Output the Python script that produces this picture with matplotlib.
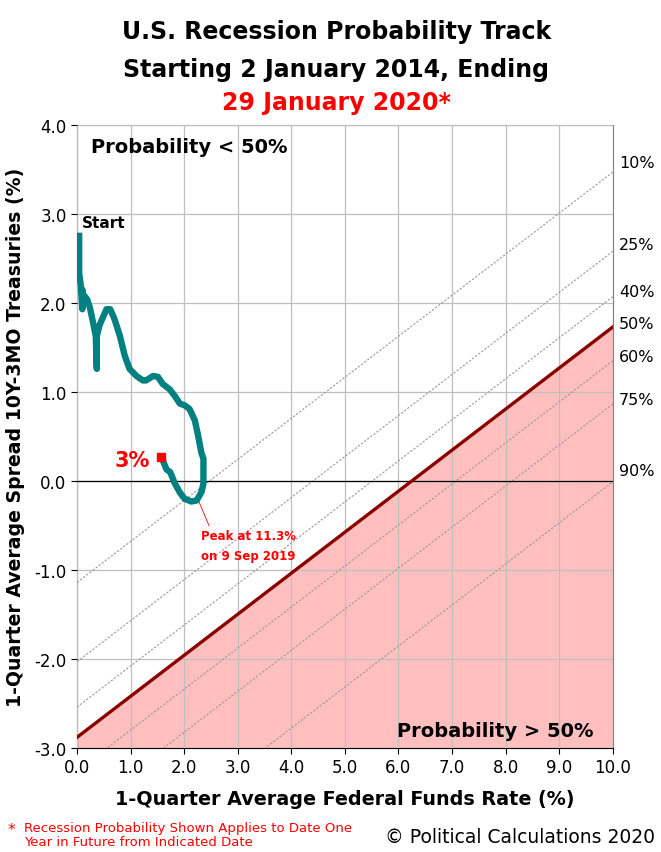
"""U.S. recession probability track, 2 Jan 2014 to 29 Jan 2020."""

import matplotlib

matplotlib.use("Agg")
import matplotlib.pyplot as plt
import numpy as np

# Track of (fed funds rate, 10Y-3MO spread).
track_ffr = [
    0.04, 0.04, 0.07, 0.10, 0.10, 0.11, 0.19, 0.24, 0.30, 0.35, 0.37, 0.37,
    0.42, 0.55, 0.62, 0.70, 0.80, 0.89, 0.98, 1.11, 1.23, 1.29, 1.42, 1.51,
    1.60, 1.73, 1.82, 1.92, 2.01, 2.10, 2.20, 2.26, 2.32, 2.36, 2.36, 2.32,
    2.23, 2.13, 2.01, 1.92, 1.82, 1.74, 1.67, 1.59, 1.57,
]
track_spread = [
    2.79, 2.34, 2.20, 1.93, 2.15, 2.10, 2.04, 1.95, 1.78, 1.63, 1.26, 1.63,
    1.75, 1.93, 1.93, 1.82, 1.63, 1.41, 1.26, 1.18, 1.13, 1.13, 1.18, 1.17,
    1.09, 1.03, 0.96, 0.87, 0.85, 0.81, 0.68, 0.51, 0.32, 0.25, -0.03, -0.13,
    -0.22, -0.23, -0.20, -0.13, -0.02, 0.10, 0.13, 0.25, 0.27,
]

# Constant-probability lines: spread value where each line meets x = 10.
prob_labels = ["10%", "25%", "40%", "50%", "60%", "75%", "90%"]
prob_end_values = [3.47, 2.58, 2.07, 1.73, 1.35, 0.865, -0.01]
prob_label_y = [3.49, 2.57, 2.04, 1.69, 1.31, 0.83, 0.03]
prob_slope = 0.461

x_ticks = np.arange(0, 11, 1)
y_ticks = np.arange(-3, 5, 1)

TEAL = "#008080"
RED = "#ff0000"
DARK_RED = "#8b0000"
PINK = "#ffbfbf"


def main() -> None:
    plt.rcParams["font.family"] = ["DejaVu Sans"]

    figure = plt.figure(figsize=(6.61, 8.53), dpi=100)
    axis = figure.add_axes([0.1165, 0.1219, 0.8105, 0.7304])

    x_line = np.array([0.0, 10.0])

    # Shaded "probability above 50%" region under the 50% line.
    fifty_end = prob_end_values[prob_labels.index("50%")]
    fifty_line = fifty_end + prob_slope * (x_line - 10.0)
    axis.fill_between(x_line, -3.0, fifty_line, color=PINK, zorder=1)

    for label, end_value, label_y in zip(prob_labels, prob_end_values, prob_label_y):
        line = end_value + prob_slope * (x_line - 10.0)
        if label == "50%":
            axis.plot(x_line, line, color=DARK_RED, linewidth=2.4, zorder=3)
        else:
            axis.plot(
                x_line, line, color="#999999", linewidth=0.8,
                linestyle=(0, (2, 1.5)), zorder=2.7,
            )
        axis.text(
            10.12, label_y, label, fontsize=11.5, ha="left", va="bottom",
            clip_on=False,
        )

    axis.axhline(0.0, color="black", linewidth=0.9, zorder=2.8)

    axis.plot(
        track_ffr, track_spread, color=TEAL, linewidth=4.6,
        solid_capstyle="butt", solid_joinstyle="round", zorder=4,
    )
    axis.plot(
        track_ffr[-1], track_spread[-1], marker="s", color=RED,
        markersize=6, linestyle="none", zorder=5,
    )

    axis.text(0.09, 2.91, "Start", fontsize=11, fontweight="bold",
              ha="left", va="center")
    axis.text(1.37, 0.24, "3%", fontsize=15, fontweight="bold", color=RED,
              ha="right", va="center")
    axis.annotate(
        "Peak at 11.3%\non 9 Sep 2019",
        xy=(2.26, -0.21), xytext=(2.31, -0.72),
        fontsize=8.5, fontweight="bold", color=RED, ha="left", va="center",
        linespacing=1.7,
        arrowprops=dict(arrowstyle="-", color=RED, linewidth=0.6,
                        shrinkA=0, shrinkB=0, relpos=(0.1, 1.0)),
    )
    axis.text(0.26, 3.76, "Probability < 50%", fontsize=14,
              fontweight="bold", ha="left", va="center")
    axis.text(9.65, -2.80, "Probability > 50%", fontsize=14,
              fontweight="bold", ha="right", va="center")

    axis.set_xlim(0, 10)
    axis.set_ylim(-3, 4)
    axis.set_xticks(x_ticks)
    axis.set_yticks(y_ticks)
    axis.set_xticklabels([f"{value:.1f}" for value in x_ticks])
    axis.set_yticklabels([f"{value:.1f}" for value in y_ticks])
    axis.tick_params(labelsize=12, length=4, direction="out")
    axis.grid(True, color="#bfbfbf", linewidth=0.9)
    axis.set_axisbelow(False)

    for side in ("top", "right"):
        axis.spines[side].set_color("#808080")
    for side in ("left", "bottom"):
        axis.spines[side].set_color("black")

    axis.set_xlabel("1-Quarter Average Federal Funds Rate (%)", fontsize=13.8,
                    fontweight="bold", labelpad=9)
    axis.set_ylabel("1-Quarter Average Spread 10Y-3MO Treasuries (%)",
                    fontsize=13.6, fontweight="bold", labelpad=7)

    figure.text(0.509, 0.962, "U.S. Recession Probability Track",
                fontsize=17, fontweight="bold", ha="center", va="center")
    figure.text(0.509, 0.918, "Starting 2 January 2014, Ending",
                fontsize=17, fontweight="bold", ha="center", va="center")
    figure.text(0.509, 0.879, "29 January 2020*", fontsize=17,
                fontweight="bold", color=RED, ha="center", va="center")

    figure.text(0.012, 0.026, "*", fontsize=11, color=RED, ha="left",
                va="center")
    figure.text(0.036, 0.0205,
                "Recession Probability Shown Applies to Date One\n"
                "Year in Future from Indicated Date",
                fontsize=9.5, color=RED, ha="left", va="center",
                linespacing=1.15)
    figure.text(0.991, 0.018, "© Political Calculations 2020", fontsize=13.5,
                ha="right", va="center")

    figure.savefig("out.png", dpi=100)


if __name__ == "__main__":
    main()
